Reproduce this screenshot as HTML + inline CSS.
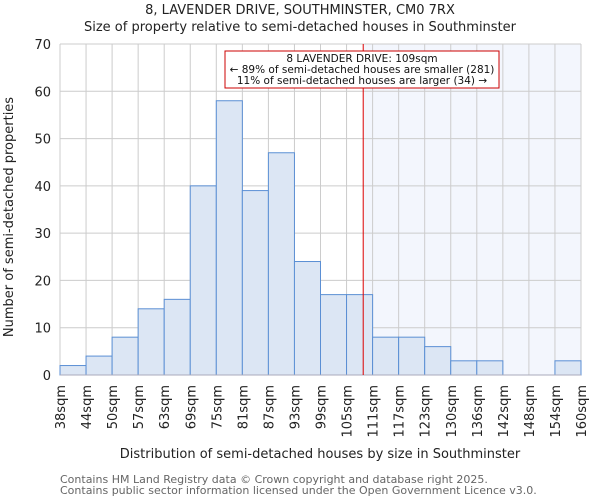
<!DOCTYPE html>
<html><head><meta charset="utf-8"><style>
body{margin:0;background:#fff;font-family:"DejaVu Sans","Liberation Sans",sans-serif;}
svg text{font-family:"DejaVu Sans","Liberation Sans",sans-serif;}
</style></head><body>
<svg id="chart" width="600" height="500" xmlns="http://www.w3.org/2000/svg">
<text x="300" y="14" text-anchor="middle" font-size="13" fill="#222">8, LAVENDER DRIVE, SOUTHMINSTER, CM0 7RX</text>
<text x="300" y="31" text-anchor="middle" font-size="13" fill="#222">Size of property relative to semi-detached houses in Southminster</text>
<g id="plot"></g>
<text x="320" y="458" text-anchor="middle" font-size="13" fill="#222">Distribution of semi-detached houses by size in Southminster</text>
<text transform="translate(13,217) rotate(-90)" text-anchor="middle" font-size="13" fill="#222">Number of semi-detached properties</text>
<text x="60" y="483" font-size="11" fill="#666">Contains HM Land Registry data © Crown copyright and database right 2025.</text>
<text x="60" y="494" font-size="11" fill="#666">Contains public sector information licensed under the Open Government Licence v3.0.</text>
</svg>
<script>
const binLabels=["38sqm","44sqm","50sqm","57sqm","63sqm","69sqm","75sqm","81sqm","87sqm","93sqm","99sqm","105sqm","111sqm","117sqm","123sqm","130sqm","136sqm","142sqm","148sqm","154sqm","160sqm"];
const counts=[2,4,8,14,16,40,58,39,47,24,17,17,8,8,6,3,3,0,0,3];
const yTicks=[0,10,20,30,40,50,60,70];
const sizeMin=38, sizeMax=160, markerSize=109;
const L=60,R=581,T=44,B=375,yMax=70;
const ns="http://www.w3.org/2000/svg";
const g=document.getElementById('plot');
const bw=(R-L)/counts.length;
const xi=i=>L+i*bw;
const xv=v=>L+(v-sizeMin)/(sizeMax-sizeMin)*(R-L);
const y=v=>B-v/yMax*(B-T);
function mk(tag,at){const e=document.createElementNS(ns,tag);for(const k in at)e.setAttribute(k,at[k]);g.appendChild(e);return e;}
const mx=xv(markerSize);
let e=mk('rect',{x:mx,y:T,width:R-mx,height:B-T,fill:'#f3f6fd'});


for(const t of yTicks){
 e=mk('line',{x1:L,x2:R,y1:y(t),y2:y(t),stroke:'#ccc','stroke-width':1});
 
 
 e=mk('text',{x:L-9,y:y(t)+5,'text-anchor':'end','font-size':13,fill:'#222'});e.textContent=t;
 
 
}
for(let i=0;i<binLabels.length;i++){
 e=mk('line',{x1:xi(i),x2:xi(i),y1:T,y2:B,stroke:'#ccc','stroke-width':1});
 
 
 const tx=xi(i)+5;
 e=mk('text',{x:0,y:0,transform:`translate(${tx},${B+10}) rotate(-90)`,'text-anchor':'end','font-size':13,fill:'#222'});e.textContent=binLabels[i];
 
 
}
counts.forEach((c,i)=>{
 if(c<=0)return;
 e=mk('rect',{x:xi(i),y:y(c),width:bw,height:B-y(c),fill:'#dce6f4',stroke:'#5b8fd4','stroke-width':1});
 
 
});
e=mk('line',{x1:L,x2:R,y1:B,y2:B,stroke:'#aab','stroke-width':1});


e=mk('line',{x1:mx,x2:mx,y1:T,y2:B,stroke:'#d00','stroke-width':1});


e=mk('rect',{x:225,y:51,width:274,height:37,fill:'#fff',stroke:'#c00','stroke-width':1});


const lines=["8 LAVENDER DRIVE: 109sqm","← 89% of semi-detached houses are smaller (281)","11% of semi-detached houses are larger (34) →"];
lines.forEach((s,k)=>{e=mk('text',{x:362,y:62+k*11,'text-anchor':'middle','font-size':10.5,fill:'#111'});e.textContent=s;
 
 });
</script>
</body></html>
